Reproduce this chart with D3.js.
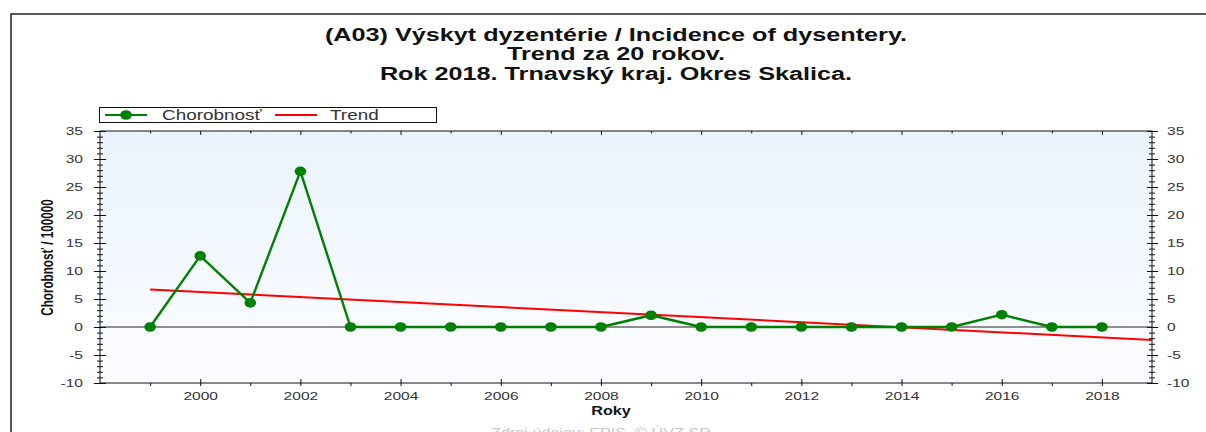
<!DOCTYPE html>
<html>
<head>
<meta charset="utf-8">
<script src="https://cdn.jsdelivr.net/npm/d3@7"></script>
<style>
    body { margin: 0; background: #fff; }
    svg { display: block; font-family: Arial, "Liberation Sans", sans-serif; }
</style>
</head>
<body>
<div id="chart"></div>
<script>

// DATA

var years      = [1999, 2000, 2001, 2002, 2003, 2004, 2005, 2006, 2007, 2008,
                  2009, 2010, 2011, 2012, 2013, 2014, 2015, 2016, 2017, 2018];
var incidence  = [0, 12.7, 4.3, 27.8, 0, 0, 0, 0, 0, 0,
                  2.1, 0, 0, 0, 0, 0, 0, 2.2, 0, 0];

var trendYears  = [1999, 2019];
var trendValues = [6.7, -2.3];

var yearLabels  = [2000, 2002, 2004, 2006, 2008, 2010, 2012, 2014, 2016, 2018];
var minorYears  = [1999, 2001, 2003, 2005, 2007, 2009, 2011, 2013, 2015, 2017];
var valueTicks  = [-10, -5, 0, 5, 10, 15, 20, 25, 30, 35];
var minorValues = d3.range( -10, 36, 1 );

var titleLines  = [
    '(A03) Výskyt dyzentérie / Incidence of dysentery.',
    'Trend za 20 rokov.',
    'Rok 2018. Trnavský kraj. Okres Skalica.'
];
var seriesNames = ['Chorobnosť', 'Trend'];
var xTitle      = 'Roky';
var yTitle      = 'Chorobnosť / 100000';
var sourceText  = 'Zdroj údajov: EPIS, © ÚVZ SR';


// LAYOUT

var width  = 1206;
var height = 432;

var plot = { left: 100, right: 1152, top: 131, bottom: 383 };

// The original picture is stretched sideways, so text gets widened too
var K = 1.35;

var green = '#008000';
var red   = '#ff0000';
var ink   = '#333';


// HELPERS

function widen( sel, k ) {
    k = k || K;
    sel.each( function() {
        var w = this.getComputedTextLength();
        d3.select( this )
            .attr( 'textLength', w * k )
            .attr( 'lengthAdjust', 'spacingAndGlyphs' );
    } );
}

// Plain hyphen for negatives, like the original
function plainNumber( d ) {
    return String( d );
}


// SCALES

var x = d3.scaleLinear()
            .domain( [1998, 2019] )
            .range( [plot.left, plot.right] );
var y = d3.scaleLinear()
            .domain( [-10, 35] )
            .range( [plot.bottom, plot.top] );


// SVG

var svg = d3.select( '#chart' ).append( 'svg' )
            .attr( 'width', width )
            .attr( 'height', height );

var defs = svg.append( 'defs' );
var grad = defs.append( 'linearGradient' )
            .attr( 'id', 'plotBg' )
            .attr( 'x1', 0 ).attr( 'y1', 0 )
            .attr( 'x2', 0 ).attr( 'y2', 1 );
grad.append( 'stop' ).attr( 'offset', '0%' ).attr( 'stop-color', '#eaf3fd' );
grad.append( 'stop' ).attr( 'offset', '100%' ).attr( 'stop-color', '#fcfdff' );

// Outer frame (cut off at right and bottom in the original)
svg.append( 'rect' )
    .attr( 'x', 11 ).attr( 'y', 14 )
    .attr( 'width', 1400 ).attr( 'height', 600 )
    .attr( 'fill', 'none' )
    .attr( 'stroke', '#111' )
    .attr( 'stroke-width', 1.4 );

// Title
svg.append( 'g' )
    .selectAll( 'text' )
    .data( titleLines )
    .join( 'text' )
        .attr( 'x', 616 )
        .attr( 'y', function( d, i ) { return 40.5 + i * 19.5; } )
        .attr( 'text-anchor', 'middle' )
        .attr( 'font-size', 18 )
        .attr( 'font-weight', 'bold' )
        .attr( 'fill', '#111' )
        .text( function( d ) { return d; } )
        .call( widen, 1.4 );

// Plot background
svg.append( 'rect' )
    .attr( 'x', plot.left ).attr( 'y', plot.top )
    .attr( 'width', plot.right - plot.left )
    .attr( 'height', plot.bottom - plot.top )
    .attr( 'fill', 'url(#plotBg)' );

// Zero line
svg.append( 'line' )
    .attr( 'x1', plot.left ).attr( 'x2', plot.right )
    .attr( 'y1', y( 0 ) ).attr( 'y2', y( 0 ) )
    .attr( 'stroke', '#222' )
    .attr( 'stroke-width', 1 );


// AXES

function cleanAxis( g ) {
    g.select( '.domain' ).remove();
    g.selectAll( 'text' )
        .attr( 'font-family', 'Arial, "Liberation Sans", sans-serif' )
        .attr( 'font-size', 11.5 )
        .attr( 'fill', ink );
    g.selectAll( 'line' ).attr( 'stroke', '#111' );
}

// Bottom, major ticks with labels
var gBottom = svg.append( 'g' )
    .attr( 'transform', 'translate(0,' + plot.bottom + ')' )
    .call( d3.axisBottom( x ).tickValues( yearLabels ).tickFormat( plainNumber ).tickSizeOuter( 0 ) )
    .call( cleanAxis );
gBottom.selectAll( '.tick line' ).attr( 'y1', -4 ).attr( 'y2', 3 );
gBottom.selectAll( '.tick text' ).attr( 'y', 9 ).call( widen );

// Bottom, minor ticks
svg.append( 'g' )
    .attr( 'transform', 'translate(0,' + plot.bottom + ')' )
    .call( d3.axisBottom( x ).tickValues( minorYears ).tickFormat( '' ).tickSize( 3 ).tickSizeOuter( 0 ) )
    .call( cleanAxis );

// Top, ticks pointing into the plot
svg.append( 'g' )
    .attr( 'transform', 'translate(0,' + plot.top + ')' )
    .call( d3.axisBottom( x ).tickValues( yearLabels ).tickFormat( '' ).tickSize( 4 ).tickSizeOuter( 0 ) )
    .call( cleanAxis );
svg.append( 'g' )
    .attr( 'transform', 'translate(0,' + plot.top + ')' )
    .call( d3.axisBottom( x ).tickValues( minorYears ).tickFormat( '' ).tickSize( 2.5 ).tickSizeOuter( 0 ) )
    .call( cleanAxis );

// Left and right, minor ticks crossing the line
[plot.left, plot.right].forEach( function( px ) {
    var gm = svg.append( 'g' )
        .attr( 'transform', 'translate(' + px + ',0)' )
        .call( d3.axisLeft( y ).tickValues( minorValues ).tickFormat( '' ).tickSizeOuter( 0 ) )
        .call( cleanAxis );
    gm.selectAll( '.tick line' ).attr( 'x1', -3 ).attr( 'x2', 3 );
} );

// Left, major ticks with labels
var gLeft = svg.append( 'g' )
    .attr( 'transform', 'translate(' + plot.left + ',0)' )
    .call( d3.axisLeft( y ).tickValues( valueTicks ).tickFormat( plainNumber ).tickSizeOuter( 0 ) )
    .call( cleanAxis );
gLeft.selectAll( '.tick line' ).attr( 'x1', -6 ).attr( 'x2', 6 );
gLeft.selectAll( '.tick text' ).attr( 'x', -17 ).call( widen );

// Right, major ticks with labels
var gRight = svg.append( 'g' )
    .attr( 'transform', 'translate(' + plot.right + ',0)' )
    .call( d3.axisRight( y ).tickValues( valueTicks ).tickFormat( plainNumber ).tickSizeOuter( 0 ) )
    .call( cleanAxis );
gRight.selectAll( '.tick line' ).attr( 'x1', -5 ).attr( 'x2', 6 );
gRight.selectAll( '.tick text' ).attr( 'x', 15 ).call( widen );

// Plot border
svg.append( 'rect' )
    .attr( 'x', plot.left ).attr( 'y', plot.top )
    .attr( 'width', plot.right - plot.left )
    .attr( 'height', plot.bottom - plot.top )
    .attr( 'fill', 'none' )
    .attr( 'stroke', '#111' )
    .attr( 'stroke-width', 1 );


// SERIES

var trendLine = d3.line()
    .x( function( d, i ) { return x( trendYears[i] ); } )
    .y( function( d ) { return y( d ); } );

svg.append( 'path' )
    .datum( trendValues )
    .attr( 'd', trendLine )
    .attr( 'fill', 'none' )
    .attr( 'stroke', red )
    .attr( 'stroke-width', 2 );

var valueLine = d3.line()
    .x( function( d, i ) { return x( years[i] ); } )
    .y( function( d ) { return y( d ); } );

svg.append( 'path' )
    .datum( incidence )
    .attr( 'd', valueLine )
    .attr( 'fill', 'none' )
    .attr( 'stroke', green )
    .attr( 'stroke-width', 2.4 )
    .attr( 'stroke-linejoin', 'round' );

svg.append( 'g' )
    .selectAll( 'ellipse' )
    .data( incidence )
    .join( 'ellipse' )
        .attr( 'cx', function( d, i ) { return x( years[i] ); } )
        .attr( 'cy', function( d ) { return y( d ); } )
        .attr( 'rx', 5.8 )
        .attr( 'ry', 4.8 )
        .attr( 'fill', green );


// AXIS TITLES

svg.append( 'text' )
    .attr( 'transform', 'translate(53,257.5) scale(' + K + ',1) rotate(-90)' )
    .attr( 'text-anchor', 'middle' )
    .attr( 'font-size', 11.7 )
    .attr( 'font-weight', 'bold' )
    .attr( 'fill', '#111' )
    .text( yTitle );

svg.append( 'text' )
    .attr( 'x', 611 ).attr( 'y', 415 )
    .attr( 'text-anchor', 'middle' )
    .attr( 'font-size', 12 )
    .attr( 'font-weight', 'bold' )
    .attr( 'fill', '#111' )
    .text( xTitle )
    .call( widen );

// Source note, mostly below the visible area in the original
svg.append( 'text' )
    .attr( 'x', 601 ).attr( 'y', 437 )
    .attr( 'text-anchor', 'middle' )
    .attr( 'font-size', 12 )
    .attr( 'fill', '#c8c8c8' )
    .text( sourceText )
    .call( widen );


// LEGEND

var legend = svg.append( 'g' );

legend.append( 'rect' )
    .attr( 'x', 99.5 ).attr( 'y', 107.5 )
    .attr( 'width', 337 ).attr( 'height', 15 )
    .attr( 'fill', '#fff' )
    .attr( 'stroke', '#111' )
    .attr( 'stroke-width', 1 );

legend.append( 'line' )
    .attr( 'x1', 105 ).attr( 'x2', 147 )
    .attr( 'y1', 115 ).attr( 'y2', 115 )
    .attr( 'stroke', green )
    .attr( 'stroke-width', 2.2 );
legend.append( 'ellipse' )
    .attr( 'cx', 126 ).attr( 'cy', 115 )
    .attr( 'rx', 5.8 ).attr( 'ry', 4.8 )
    .attr( 'fill', green );

legend.append( 'line' )
    .attr( 'x1', 275 ).attr( 'x2', 317 )
    .attr( 'y1', 115 ).attr( 'y2', 115 )
    .attr( 'stroke', red )
    .attr( 'stroke-width', 2 );

legend.selectAll( 'text' )
    .data( seriesNames )
    .join( 'text' )
        .attr( 'x', function( d, i ) { return i === 0 ? 162 : 330; } )
        .attr( 'y', 120 )
        .attr( 'font-size', 14 )
        .attr( 'fill', ink )
        .text( function( d ) { return d; } )
        .call( widen );

</script>
</body>
</html>
